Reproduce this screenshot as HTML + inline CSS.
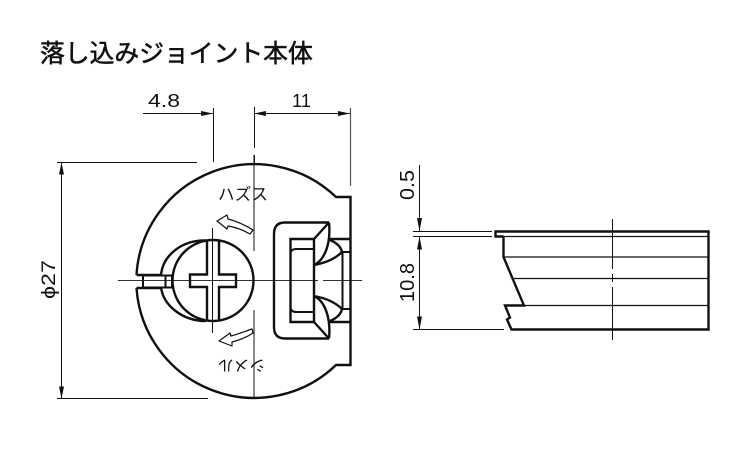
<!DOCTYPE html>
<html><head><meta charset="utf-8"><style>
html,body{margin:0;padding:0;background:#fff}
svg{display:block}
text{font-family:"Liberation Sans","Noto Sans CJK JP",sans-serif;fill:#111}
</style></head><body>
<svg width="750" height="450" viewBox="0 0 750 450" xmlns="http://www.w3.org/2000/svg">
<rect width="750" height="450" fill="#fff"/>
<text x="40" y="62" font-size="24.8" stroke="#111" stroke-width="0.55" style="font-family:'Noto Sans CJK JP',sans-serif">落し込みジョイント本体</text>

<!-- dim lines -->
<g stroke="#111" stroke-width="1" fill="none">
<path d="M143 113.5H213M254 113.5H350"/>
<path d="M213.5 108V162"/>
<path d="M254.5 107V148M254.5 155V163"/>
<path d="M350.5 108V186" stroke="#555" stroke-width="1.2"/>
<path d="M57 162.5H197M57 398.5H208M61.5 162V398"/>
<path d="M413 231.5H492M413 236.5H492M413 329.5H504M419.5 165V231M419.5 236V329"/>
</g>
<g fill="#111">
<path d="M213 113.5l-12 -2.5v5zM254 113.5l12 -2.5v5zM350 113.5l-12 -2.5v5z"/>
<path d="M61.5 162.5l-2.5 12h5zM61.5 398.5l-2.5 -12h5z"/>
<path d="M419.5 231l-2.5 -13h5zM419.5 236.5l-2.5 13h5zM419.5 329.5l-2.5 -13h5z"/>
</g>
<text x="148" y="107" font-size="18" textLength="32" lengthAdjust="spacingAndGlyphs">4.8</text>
<text x="292" y="107" font-size="18" textLength="19" lengthAdjust="spacingAndGlyphs">11</text>
<text transform="translate(55,299) rotate(-90)" font-size="19.5" textLength="39" lengthAdjust="spacingAndGlyphs">ϕ27</text>
<text transform="translate(414,200) rotate(-90)" font-size="20" textLength="30" lengthAdjust="spacingAndGlyphs">0.5</text>
<text transform="translate(414,302) rotate(-90)" font-size="20" textLength="39" lengthAdjust="spacingAndGlyphs">10.8</text>

<!-- center lines -->
<g stroke="#111" stroke-width="1" fill="none">
<path d="M254 155V251M254 310V398"/>
<path d="M118 280.5H318M323 280.5H362" stroke="#333"/>
<path d="M212.5 228V333"/>
<path d="M612.5 219V269M612.5 274V282M612.5 287V340"/>
</g>

<!-- main body -->
<g stroke="#111" stroke-width="2.4" fill="none" stroke-linejoin="miter">
<path d="M136.5 275 A118 118 0 0 1 336 197 H350.5 V365 H336 A118 118 0 0 1 136.5 288"/>
<path d="M136.5 275 H161 M136.5 288 H161"/>
<path d="M143 275.5V287.5M165.5 275V287M172 275V287M143 275.5H172M143 287.5H172" stroke-width="2"/>
<path d="M161 275 C163 255 182 240 206 240.5 M161 287 C163 305 182 321 206 321"/>
<circle cx="213" cy="280.5" r="40.5" fill="none" stroke-width="2.4"/>
<path d="M207 241V274.5H190V287H207V320M219 241V274.5H236V287H219V320" stroke-width="2.4"/>
</g>

<!-- right mechanism -->
<g stroke="#111" stroke-width="2.4" fill="none">
<path d="M329 222.5H285 Q274 222.5 274 234V327 Q274 338.5 285 338.5H329"/>
<path d="M290.5 239H314V322H290.5Z"/>
<path d="M291 252Q292 249 296 249H314M291 309Q292 312 296 312H314" stroke-width="2"/>
<path d="M314 239L329 222.5M314 322L329 338.5"/>
<path d="M329 222.5C331 243 325 260 314 265M329 338.5C331 318 325 301 314 296"/>
<path d="M329 239H350M329 322H350M330 240C337 243 341 247 342 252C335 259 325 263 314 265M330 321C337 318 341 314 342 309C335 302 325 298 314 296"/>
<path d="M342 252H350M342 309H350M342.5 252V309" stroke-width="2"/>
</g>

<!-- rotation arrows -->
<g stroke="#111" stroke-width="1.2" fill="#fff" stroke-linejoin="round">
<path d="M217 221L227 215L228 219C236 221 245 225 253 230L250 234C243 230 235 227 228 226L227 229Z"/>
<path d="M219 341L230 333L231 336C238 334 246 331 252 329L253 333C247 337 240 340 232 342L232 346Z"/>
</g>
<text x="218" y="200" font-size="16.5" textLength="50" lengthAdjust="spacing">ハズス</text>
<text transform="translate(265,347) rotate(180)" font-size="15.5" y="-13" textLength="47">シメル</text>

<!-- side view -->
<g stroke="#111" fill="none">
<path d="M503.5 236V257L524 305.5H505L510 317.5L507 319.5L511.5 329.5H708.5V231.5H495.5V236.5H503.5" stroke-width="2.4"/>
<path d="M503 236.5H708M503 257H708M514 278.5H708M524 305.5H708" stroke-width="1.2"/>
</g>
</svg>
</body></html>
